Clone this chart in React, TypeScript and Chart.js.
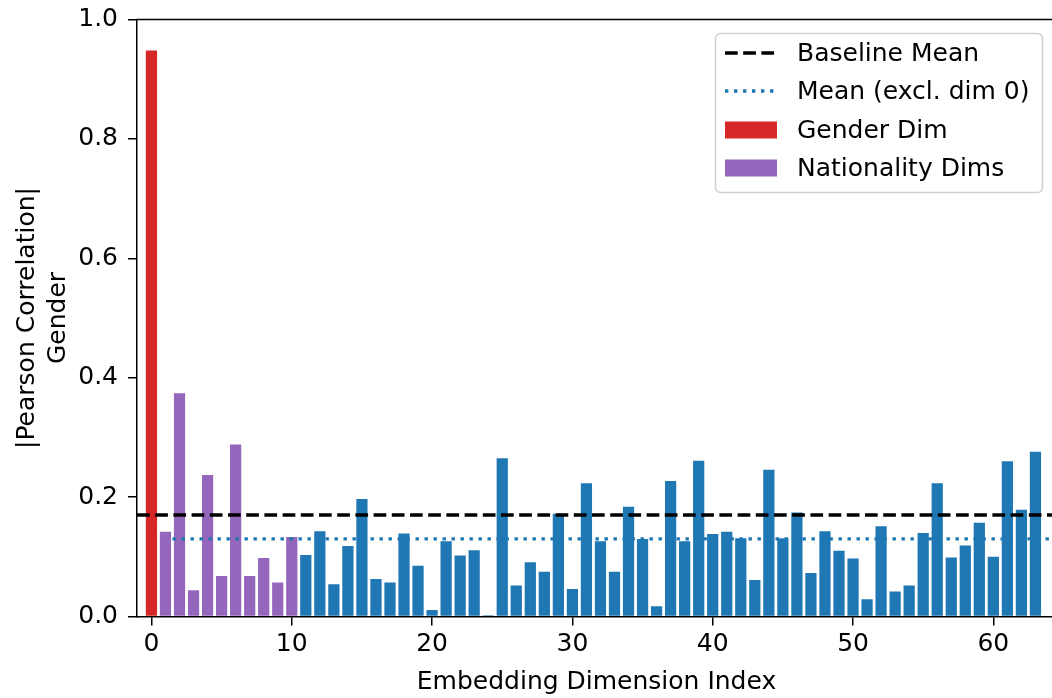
import React, { useEffect, useRef } from "react";
import { Chart, registerables } from "chart.js";

Chart.register(...registerables);

// ---------- data ----------
const dimensions: number[] = Array.from({ length: 64 }, (_, i) => i);
const correlations: number[] = [
  0.948, 0.142, 0.374, 0.044, 0.237, 0.068, 0.288, 0.068, 0.098, 0.057,
  0.133, 0.103, 0.143, 0.054, 0.118, 0.197, 0.063, 0.057, 0.139, 0.085,
  0.011, 0.126, 0.102, 0.111, 0.002, 0.265, 0.052, 0.091, 0.075, 0.172,
  0.046, 0.223, 0.126, 0.075, 0.184, 0.130, 0.017, 0.227, 0.126, 0.261,
  0.138, 0.142, 0.131, 0.061, 0.246, 0.131, 0.174, 0.073, 0.143, 0.110,
  0.097, 0.029, 0.151, 0.042, 0.052, 0.140, 0.223, 0.099, 0.119, 0.157,
  0.100, 0.260, 0.179, 0.276,
];
const genderDims: number[] = [0];
const nationalityDims: number[] = [1, 2, 3, 4, 5, 6, 7, 8, 9, 10];
const xTicks: number[] = [0, 10, 20, 30, 40, 50, 60];
const yTicks: number[] = [0, 0.2, 0.4, 0.6, 0.8, 1.0];
const xRange: number[] = [-1.03, 64.18];
const yRange: number[] = [0, 1];
const baselineMean = 0.17;
const meanExclDim0 = 0.13;
const meanLineStart = 1.5;
const legendLabels: string[] = [
  "Baseline Mean",
  "Mean (excl. dim 0)",
  "Gender Dim",
  "Nationality Dims",
];
const yTitleLines: string[] = ["|Pearson Correlation|", "Gender"];
const xTitle = "Embedding Dimension Index";

// ---------- styles ----------
const FONT = "'DejaVu Sans', sans-serif";
const RED = "#d62728";
const PURPLE = "#9467bd";
const BLUE = "#1f77b4";
const DASH = [12.7, 5.5];
const DOT = [3.4, 5.6];
const LINE_W = 3.4;

const pick = (list: number[]) =>
  dimensions.filter((d) => list.includes(d)).map((d) => ({ x: d, y: correlations[d] }));
const rest = dimensions
  .filter((d) => !genderDims.includes(d) && !nationalityDims.includes(d))
  .map((d) => ({ x: d, y: correlations[d] }));

const decorPlugin = {
  id: "decor",
  afterDraw(chart: any) {
    const ctx: CanvasRenderingContext2D = chart.ctx;
    const a = chart.chartArea;
    ctx.save();
    // top spine
    ctx.strokeStyle = "#000";
    ctx.lineWidth = 1.5;
    ctx.beginPath();
    ctx.moveTo(a.left - 0.75, a.top);
    ctx.lineTo(a.right, a.top);
    ctx.stroke();

    // legend
    const bx = 715.5, by = 33.5, bw = 327, bh = 159;
    ctx.beginPath();
    (ctx as any).roundRect(bx, by, bw, bh, 5);
    ctx.fillStyle = "rgba(255,255,255,0.85)";
    ctx.fill();
    ctx.strokeStyle = "#d0d0d0";
    ctx.lineWidth = 1.5;
    ctx.stroke();

    const hx0 = 725, hx1 = 777;
    const rows = [53, 91, 130, 168];
    ctx.lineCap = "butt";
    ctx.lineWidth = LINE_W;
    ctx.strokeStyle = "#000";
    ctx.setLineDash(DASH);
    ctx.beginPath();
    ctx.moveTo(hx0, rows[0]);
    ctx.lineTo(hx1, rows[0]);
    ctx.stroke();
    ctx.strokeStyle = BLUE;
    ctx.setLineDash(DOT);
    ctx.beginPath();
    ctx.moveTo(hx0, rows[1]);
    ctx.lineTo(hx1, rows[1]);
    ctx.stroke();
    ctx.setLineDash([]);
    ctx.fillStyle = RED;
    ctx.fillRect(hx0, rows[2] - 8.5, hx1 - hx0, 17);
    ctx.fillStyle = PURPLE;
    ctx.fillRect(hx0, rows[3] - 8.5, hx1 - hx0, 17);

    ctx.fillStyle = "#000";
    ctx.font = `25px ${FONT}`;
    ctx.textAlign = "left";
    ctx.textBaseline = "middle";
    legendLabels.forEach((t, i) => ctx.fillText(t, 797, rows[i] + 1));

    // y title
    const cy = (a.top + a.bottom) / 2;
    ctx.textAlign = "center";
    ctx.textBaseline = "alphabetic";
    [34, 65].forEach((bxl, i) => {
      ctx.save();
      ctx.translate(bxl, cy);
      ctx.rotate(-Math.PI / 2);
      ctx.fillText(yTitleLines[i], 0, 0);
      ctx.restore();
    });

    // x title
    ctx.textAlign = "center";
    ctx.textBaseline = "alphabetic";
    ctx.fillText(xTitle, 596.5, 689);
    ctx.restore();
  },
};

export default function App() {
  const ref = useRef<HTMLCanvasElement | null>(null);
  useEffect(() => {
    if (!ref.current) return;
    const barCommon = {
      type: "bar" as const,
      grouped: false,
      barPercentage: 0.8,
      categoryPercentage: 1.0,
      borderWidth: 0,
      order: 2,
    };
    const chart = new Chart(ref.current, {
      type: "bar",
      data: {
        datasets: [
          {
            type: "line",
            label: legendLabels[0],
            data: [
              { x: xRange[0], y: baselineMean },
              { x: xRange[1], y: baselineMean },
            ],
            borderColor: "#000",
            borderWidth: LINE_W,
            borderDash: DASH,
            borderCapStyle: "butt",
            pointRadius: 0,
            order: 0,
          } as any,
          {
            type: "line",
            label: legendLabels[1],
            data: [
              { x: meanLineStart, y: meanExclDim0 },
              { x: xRange[1], y: meanExclDim0 },
            ],
            borderColor: BLUE,
            borderWidth: LINE_W,
            borderDash: DOT,
            borderCapStyle: "butt",
            pointRadius: 0,
            order: 1,
          } as any,
          { ...barCommon, label: legendLabels[2], data: pick(genderDims), backgroundColor: RED } as any,
          { ...barCommon, label: legendLabels[3], data: pick(nationalityDims), backgroundColor: PURPLE } as any,
          { ...barCommon, label: "Other Dims", data: rest, backgroundColor: BLUE } as any,
        ],
      },
      options: {
        responsive: false,
        animation: false,
        devicePixelRatio: 1,
        layout: { padding: { top: 19, right: 0, left: 0, bottom: 0 } },
        plugins: { legend: { display: false }, tooltip: { enabled: false } },
        scales: {
          x: {
            type: "linear",
            offset: false,
            min: xRange[0],
            max: xRange[1],
            afterBuildTicks: (s: any) => {
              s.ticks = xTicks.map((v) => ({ value: v }));
            },
            afterFit: (s: any) => {
              s.height = 81.5;
            },
            ticks: {
              color: "#000",
              font: { family: FONT, size: 25 },
              padding: 4,
              autoSkip: false,
              maxRotation: 0,
              callback: (v: any) => String(v),
            },
            grid: {
              offset: false,
              drawOnChartArea: false,
              drawTicks: true,
              tickLength: 9,
              color: "#000",
              lineWidth: 1.5,
            },
            border: { display: true, color: "#000", width: 1.5 },
          },
          y: {
            type: "linear",
            min: yRange[0],
            max: yRange[1],
            afterBuildTicks: (s: any) => {
              s.ticks = yTicks.map((v) => ({ value: v }));
            },
            afterFit: (s: any) => {
              s.width = 137;
            },
            ticks: {
              color: "#000",
              font: { family: FONT, size: 25, lineHeight: 0.76 },
              padding: 10,
              callback: (v: any) => Number(v).toFixed(1),
            },
            grid: { drawOnChartArea: false, drawTicks: true, tickLength: 9, color: "#000", lineWidth: 1.5 },
            border: { display: true, color: "#000", width: 1.5 },
          },
        },
      },
      plugins: [decorPlugin],
    } as any);
    return () => chart.destroy();
  }, []);

  return (
    <div style={{ position: "absolute", left: 0, top: 0, width: 1052, height: 698, background: "#fff" }}>
      <canvas ref={ref} width={1052} height={698} style={{ display: "block" }} />
    </div>
  );
}
